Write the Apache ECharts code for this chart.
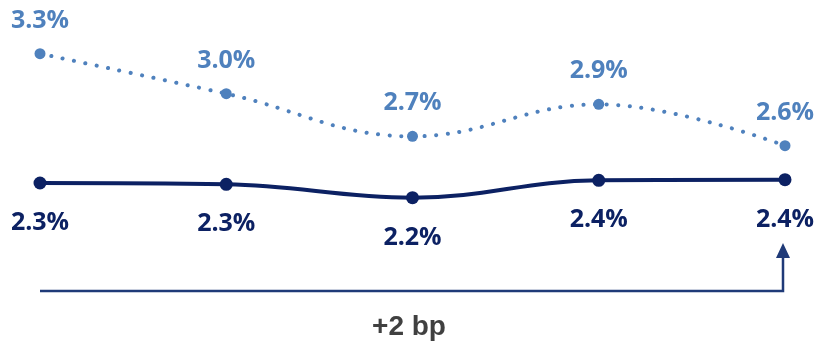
<!DOCTYPE html>
<html><head><meta charset="utf-8">
<script src="https://cdn.jsdelivr.net/npm/echarts@6/dist/echarts.min.js"></script>
<style>html,body{margin:0;padding:0;background:#fff}#c{width:818px;height:343px}</style>
</head><body><div id="c"></div>
<script>
const categories = ['P1', 'P2', 'P3', 'P4', 'P5'];
const upperValues = [3.30, 3.00, 2.68, 2.92, 2.61];
const lowerValues = [2.33, 2.32, 2.22, 2.35, 2.355];
const changeText = '+2 bp';

const chart = echarts.init(document.getElementById('c'));
const fmt = p => (Math.round(p.value * 10) / 10).toFixed(1) + '%';
const FONT = '"Open Sans"';
chart.setOption({
  animation: false,
  grid: {left: 40, right: 33, top: 27, bottom: 116},
  xAxis: {type: 'category', data: categories, boundaryGap: false, show: false},
  yAxis: {type: 'value', min: 2.0, max: 3.5, show: false},
  series: [
    {
      type: 'line', data: upperValues, smooth: 0.4,
      symbol: 'circle', symbolSize: 11,
      itemStyle: {color: '#4f81bd'},
      lineStyle: {color: '#4f81bd', width: 4, type: [0.1, 11.5], cap: 'round'},
      label: {show: true, position: 'top', distance: 15, formatter: fmt,
        color: '#4f81bd', fontFamily: FONT, fontWeight: 'bold', fontSize: 25}
    },
    {
      type: 'line', data: lowerValues, smooth: 0.4,
      symbol: 'circle', symbolSize: 13,
      itemStyle: {color: '#0c2163'},
      lineStyle: {color: '#0c2163', width: 4},
      label: {show: true, position: 'bottom', distance: 21, formatter: fmt,
        color: '#0c2163', fontFamily: FONT, fontWeight: 'bold', fontSize: 25}
    }
  ]
});

const x0 = chart.convertToPixel({xAxisIndex: 0}, categories[0]);
const x1 = chart.convertToPixel({xAxisIndex: 0}, categories[categories.length - 1]);
const yLine = 291, yTip = 243;
chart.setOption({
  graphic: [
    {type: 'polyline', shape: {points: [[x0, yLine], [x1 - 2, yLine], [x1 - 2, yTip + 14]]},
      style: {stroke: '#1f3a78', lineWidth: 2.5, fill: null}},
    {type: 'polygon', shape: {points: [[x1 - 2, yTip], [x1 - 9, yTip + 15], [x1 + 5, yTip + 15]]},
      style: {fill: '#1f3a78'}},
    {type: 'text', left: 'center', top: 313,
      style: {text: changeText, fill: '#404040', font: 'bold 28px "Liberation Sans", Arial'}}
  ]
});
</script>
</body></html>
